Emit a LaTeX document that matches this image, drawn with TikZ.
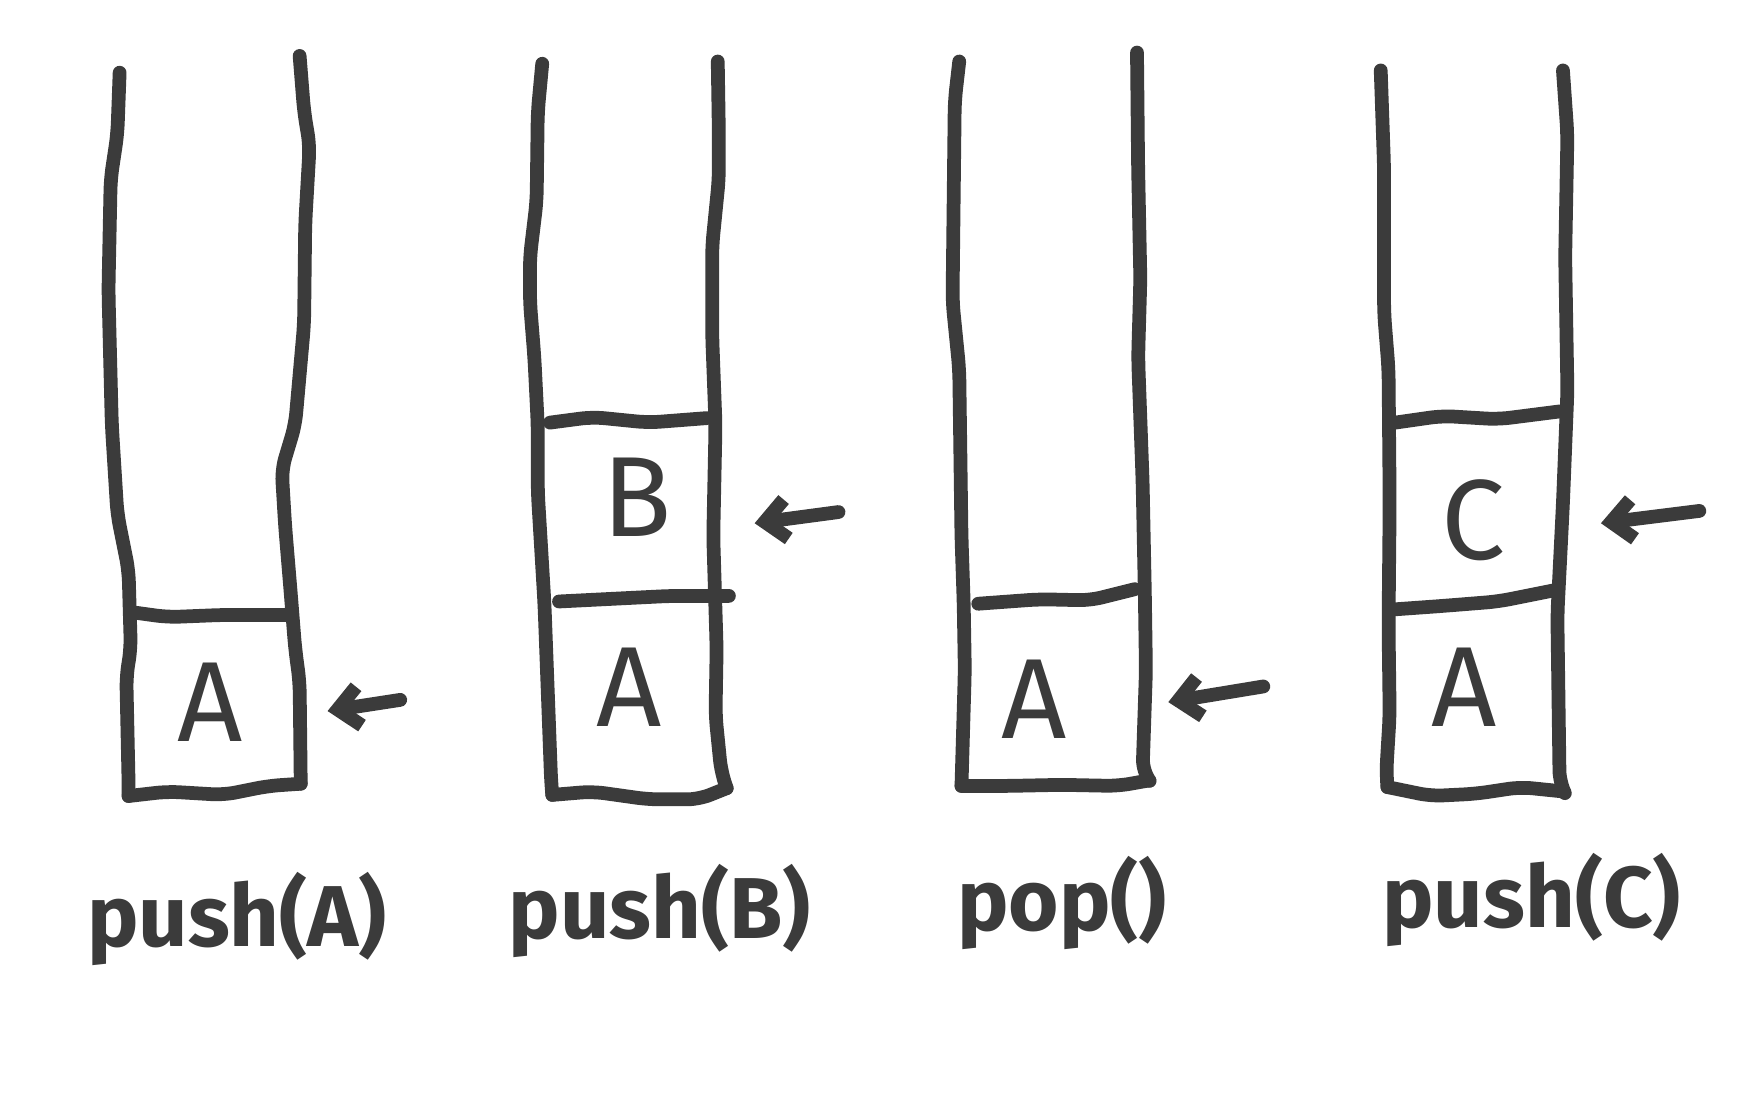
\documentclass[tikz,border=0pt]{standalone}
\usepackage{fontspec}
\setmainfont{Fira Sans}
\usetikzlibrary{arrows.meta}
\definecolor{ink}{HTML}{3B3B3B}
\tikzset{
  wall/.style={draw=ink,line width=7pt,line cap=round,line join=round,rounded corners=6pt},
  pointer/.style={draw=ink,line width=7pt,line cap=round,line join=round,
    -{Straight Barb[length=11pt,width=20pt,line width=7pt]}},
  cell/.style={text=ink,font=\fontsize{58}{58}\selectfont,inner sep=0pt},
  oplabel/.style={text=ink,font=\bfseries\fontsize{44}{44}\selectfont,inner sep=0pt}
}
\begin{document}
\begin{tikzpicture}[x=0.02cm,y=-0.02cm]
\useasboundingbox[fill=white] (0,0) rectangle (1568,998);
% ---------- stack 1 ----------
\draw[wall] (107,65) -- (105,120) -- (99,160) -- (97,260) -- (100,380) -- (105,460) -- (115,510) -- (117,580) -- (113,605) -- (115,700) -- (115,712);
\draw[wall] (115,712) -- (150,708) -- (200,711) -- (240,703) -- (269,701);
\draw[wall] (268,50) -- (272,100) -- (277,130) -- (273,200) -- (272,290) -- (264,380) -- (252,420) -- (255,470) -- (260,530) -- (264,580) -- (268,610) -- (269,701);
\draw[wall] (121,548) -- (150,552) -- (200,550) -- (258,550);
\node[cell] (a1) at (188,628) {A};
\coordinate (t1) at (358,626);
\coordinate (h1) at (293,636);
\draw[pointer] (t1) -- (h1);
\node[oplabel] (l1) at (212,822) {push(A)};
% ---------- stack 2 ----------
\draw[wall] (485,57) -- (481,100) -- (480,180) -- (474,230) -- (474,270) -- (478,320) -- (481,380) -- (481,440) -- (484,490) -- (487,540) -- (490,620) -- (493,700) -- (494,711);
\draw[wall] (494,711) -- (530,708) -- (580,715) -- (625,715) -- (650,705);
\draw[wall] (642,55) -- (643,120) -- (643,160) -- (637,220) -- (637,300) -- (640,380) -- (638,480) -- (641,580) -- (640,640) -- (645,690) -- (650,705);
\draw[wall] (492,378) -- (530,373) -- (580,378) -- (632,374);
\draw[wall] (500,538) -- (560,535) -- (600,533) -- (652,533);
\node[cell] (b2) at (570,445) {B};
\node[cell] (a2) at (563,615) {A};
\coordinate (t2) at (750,458);
\coordinate (h2) at (675,468);
\draw[pointer] (t2) -- (h2);
\node[oplabel] (l2) at (590,815) {push(B)};
% ---------- stack 3 ----------
\draw[wall] (858,55) -- (854,90) -- (852,270) -- (858,330) -- (860,480) -- (862,540) -- (863,600) -- (860,703);
\draw[wall] (860,703) -- (900,703) -- (950,702) -- (1000,703) -- (1028,698);
\draw[wall] (1017,47) -- (1018,150) -- (1020,250) -- (1018,320) -- (1022,430) -- (1024,530) -- (1025,600) -- (1022,690) -- (1028,698);
\draw[wall] (875,540) -- (930,536) -- (975,537) -- (1015,527);
\node[cell] (a3) at (925,625) {A};
\coordinate (t3) at (1130,614);
\coordinate (h3) at (1045,628);
\draw[pointer] (t3) -- (h3);
\node[oplabel] (l3) at (950,808) {pop()};
% ---------- stack 4 ----------
\draw[wall] (1235,63) -- (1238,150) -- (1238,280) -- (1242,330) -- (1243,450) -- (1242,560) -- (1243,640) -- (1240,690) -- (1241,704);
\draw[wall] (1241,704) -- (1280,712) -- (1320,710) -- (1360,704) -- (1399,708);
\draw[wall] (1398,63) -- (1402,120) -- (1400,230) -- (1402,350) -- (1398,450) -- (1393,550) -- (1395,700) -- (1399,708);
\draw[wall] (1248,378) -- (1290,372) -- (1340,375) -- (1395,368);
\draw[wall] (1248,545) -- (1290,542) -- (1340,538) -- (1390,528);
\node[cell] (c4) at (1318,465) {C};
\node[cell] (a4) at (1310,615) {A};
\coordinate (t4) at (1520,457);
\coordinate (h4) at (1432,468);
\draw[pointer] (t4) -- (h4);
\node[oplabel] (l4) at (1370,805) {push(C)};
\end{tikzpicture}
\end{document}
